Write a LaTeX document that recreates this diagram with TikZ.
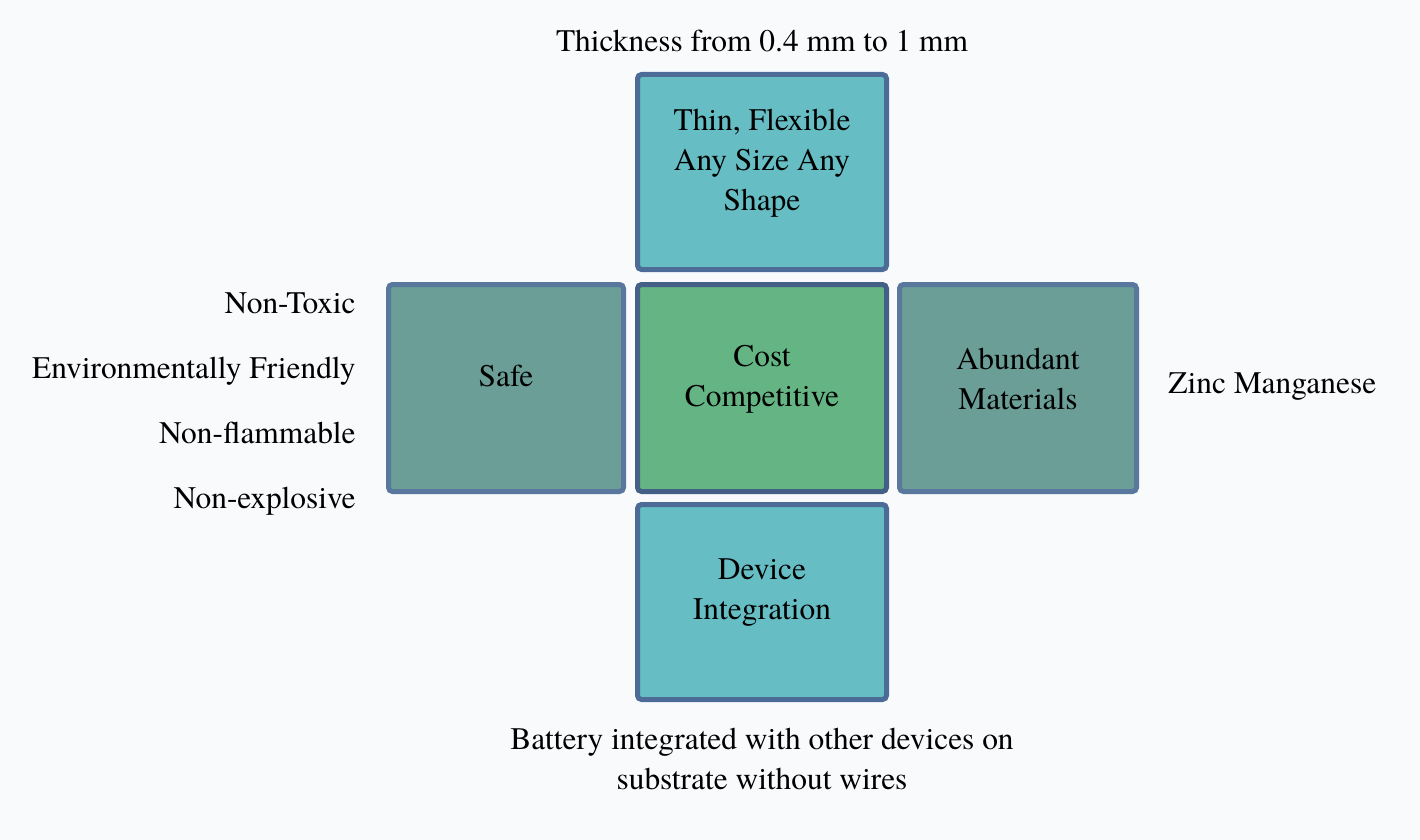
\documentclass[tikz,border=0pt]{standalone}
\usepackage{fontspec}
\setmainfont{texgyretermes-regular.otf}
\usetikzlibrary{positioning}
\definecolor{bgpale}{HTML}{F8FAFC}
\definecolor{edgeblue}{HTML}{4C6B96}
\definecolor{thinteal}{HTML}{66BDC4}
\definecolor{costgreen}{HTML}{64B484}
\definecolor{sidegrey}{HTML}{6A9E96}
\tikzset{
  facetnode/.style={
    rectangle, rounded corners=2pt,
    minimum width=124.5pt, minimum height=103.5pt,
    inner sep=0pt,
    draw=edgeblue, line width=2.5pt
  },
  thinnode/.style={facetnode, fill=thinteal, minimum height=97.5pt},
  costnode/.style={facetnode, fill=costgreen, draw=edgeblue!90!black},
  sidenode/.style={facetnode, fill=sidegrey, draw=edgeblue!92!white},
  facettext/.style={align=center, yshift=4.5pt},
  notelabel/.style={inner sep=0pt}
}
\begin{document}
\begin{tikzpicture}[x=0.5pt, y=-0.5pt, font=\fontsize{15.7pt}{20pt}\selectfont]

  % Page
  \fill[bgpale] (0,0) rectangle (1420,840);
  \useasboundingbox (0,0) rectangle (1420,840);

  % Boxes
  \node[costnode] (cost) at (762,388)
    [label={[facettext]center:Cost\\Competitive}] {};

  \node[thinnode, above=5pt of cost] (thin)
    [label={[facettext]center:Thin, Flexible\\Any Size Any\\Shape}] {};

  \node[sidenode, minimum width=117.5pt, left=4.5pt of cost] (safe)
    [label={[facettext, yshift=1.5pt]center:Safe}] {};

  \node[sidenode, minimum width=118.5pt, right=4pt of cost] (abundant)
    [label={[facettext]center:Abundant\\Materials}] {};

  \node[thinnode, below=4pt of cost] (device)
    [label={[facettext]center:Device\\Integration}] {};

  % Notes
  \node[notelabel, anchor=base] (thick_note) at (762,52)
    {Thickness from 0.4 mm to 1 mm};

  \node[notelabel, anchor=base east] (toxic_note) at (356,313) {Non-Toxic};
  \node[notelabel, anchor=base east] (env_note) at (356,378) {Environmentally Friendly};
  \node[notelabel, anchor=base east] (flam_note) at (356,443) {Non-flammable};
  \node[notelabel, anchor=base east] (expl_note) at (356,508) {Non-explosive};

  \node[notelabel, anchor=base west] (zinc_note) at (1168,393) {Zinc Manganese};

  \node[notelabel, align=center, anchor=north] (wire_note) at (762,728)
    {Battery integrated with other devices on\\substrate without wires};

\end{tikzpicture}
\end{document}
